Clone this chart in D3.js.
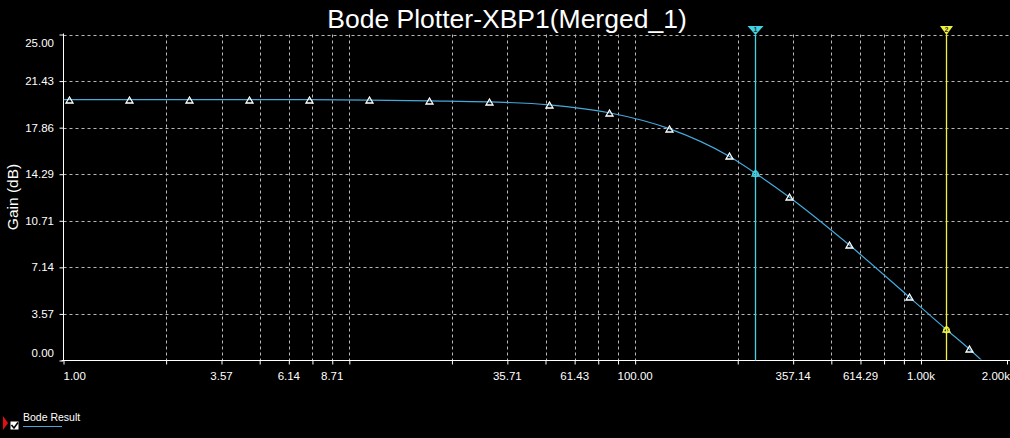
<!DOCTYPE html>
<html>
<head>
<meta charset="utf-8">
<script src="https://cdn.jsdelivr.net/npm/d3@7"></script>
<style>
  html, body { margin: 0; padding: 0; background: #000; }
  svg { display: block; }
  text { font-family: "Liberation Sans", Arial, sans-serif; fill: #fff; }
</style>
</head>
<body>
<svg id="chart" width="1010" height="438"></svg>
<script>
// ---- data ----
const title = "Bode Plotter-XBP1(Merged_1)";
const yLabel = "Gain (dB)";
const seriesName = "Bode Result";

// frequency (Hz) and gain (dB) of the trace
const freqs = [1, 1.049, 1.701, 2.757, 4.470, 7.247, 11.75, 19.04, 30.87, 50.05, 81.13, 131.5, 213.2, 262.8, 345.6, 560.2, 907.9, 1223, 1472, 2000];
const gains = [20.01, 20.01, 20.01, 20.01, 20.01, 20.00, 19.97, 19.91, 19.83, 19.61, 19.00, 17.78, 15.66, 14.38, 12.54, 8.87, 4.88, 2.40, 0.90, -1.85];

// frequencies carrying the white triangle markers
const markerFreqs = [1.049, 1.701, 2.757, 4.470, 7.247, 11.75, 19.04, 30.87, 50.05, 81.13, 131.5, 213.2, 345.6, 560.2, 907.9, 1472];

// cursors
const cursorLabels = ["1", "2"];
const cursorFreqs = [262.8, 1223];
const cursorColors = ["#3fd3e3", "#f2f23a"];

// axes
const xDomain = [1, 2000];
const yDomain = [0, 25];
const xTickValues = [1, 2.2857, 3.5714, 4.8571, 6.1429, 7.4286, 8.7143, 10,
  22.857, 35.714, 48.571, 61.429, 74.286, 87.143, 100,
  228.57, 357.14, 485.71, 614.29, 742.86, 871.43, 1000, 2000];
const xTickLabels = ["1.00", "", "3.57", "", "6.14", "", "8.71", "",
  "", "35.71", "", "61.43", "", "", "100.00",
  "", "357.14", "", "614.29", "", "", "1.00k", "2.00k"];
const yTickValues = [0, 3.5714, 7.1429, 10.714, 14.286, 17.857, 21.429, 25];
const yTickLabels = ["0.00", "3.57", "7.14", "10.71", "14.29", "17.86", "21.43", "25.00"];

// ---- drawing ----
const pLeft = 63.5, pRight = 1007, pTop = 34.5, pBottom = 360.5, axisEnd = 1010;
const svg = d3.select("#chart");

const x = d3.scaleLog().domain(xDomain).range([pLeft, pRight]);
const y = d3.scaleLinear().domain(yDomain).range([pBottom, pTop]);

const gridColor = "#b8b8b8";

// title
svg.append("text").attr("x", 507).attr("y", 28)
  .attr("text-anchor", "middle").style("font-size", "26.5px").text(title);

// horizontal grid
const gG = svg.append("g");
yTickValues.filter(v => v > 0).forEach(v => {
  gG.append("line").attr("x1", pLeft).attr("x2", axisEnd)
    .attr("y1", Math.round(y(v)) + 0.5).attr("y2", Math.round(y(v)) + 0.5)
    .attr("stroke", gridColor).attr("stroke-dasharray", "3,3");
});
// vertical grid
xTickValues.filter(v => v > 1 && v < 2000).forEach(v => {
  const px = Math.round(x(v)) + 0.5;
  gG.append("line").attr("x1", px).attr("x2", px)
    .attr("y1", pTop).attr("y2", pBottom)
    .attr("stroke", gridColor).attr("stroke-dasharray", "3,3");
});

// y axis
const yAxis = d3.axisLeft(y).tickValues(yTickValues).tickSize(4).tickFormat(() => "");
const gya = svg.append("g").attr("transform", `translate(${pLeft},0)`).call(yAxis);
gya.select(".domain").remove();
gya.selectAll("line").attr("stroke", "#fff");
svg.append("line").attr("x1", pLeft).attr("x2", pLeft).attr("y1", pTop - 1).attr("y2", pBottom)
  .attr("stroke", "#fff");
yTickValues.forEach((v, i) => {
  let py = y(v);
  if (i === 0) py -= 8;
  if (i === yTickValues.length - 1) py += 8;
  svg.append("text").attr("x", 54).attr("y", py).attr("dy", "0.36em")
    .attr("text-anchor", "end").style("font-size", "11.5px").text(yTickLabels[i]);
});

// x axis
const xAxis = d3.axisBottom(x).tickValues(xTickValues).tickSize(4).tickFormat(() => "");
const gxa = svg.append("g").attr("transform", `translate(0,${pBottom})`).call(xAxis);
gxa.select(".domain").remove();
gxa.selectAll("line").attr("stroke", "#fff");
svg.append("line").attr("x1", pLeft - 2).attr("x2", axisEnd).attr("y1", pBottom).attr("y2", pBottom)
  .attr("stroke", "#fff");
xTickValues.forEach((v, i) => {
  const lab = xTickLabels[i];
  if (!lab) return;
  let anchor = "middle", px = x(v);
  if (i === 0) { anchor = "start"; px = pLeft; }
  if (i === xTickValues.length - 1) { anchor = "end"; px = axisEnd; }
  svg.append("text").attr("x", px).attr("y", 376).attr("dy", "0.36em")
    .attr("text-anchor", anchor).style("font-size", "11.5px").text(lab);
});

// y label
svg.append("text").attr("transform", "translate(18,197) rotate(-90)")
  .attr("text-anchor", "middle").style("font-size", "15.5px").text(yLabel);

// clip for trace
svg.append("clipPath").attr("id", "plotclip").append("rect")
  .attr("x", pLeft).attr("y", pTop - 2).attr("width", axisEnd - pLeft).attr("height", pBottom - pTop + 1);

const pts = freqs.map((f, i) => [f, gains[i]]);
const line = d3.line().x(d => x(d[0])).y(d => y(d[1])).curve(d3.curveMonotoneX);
const traceColor = "#45a9dc";
svg.append("path").attr("d", line(pts)).attr("fill", "none")
  .attr("stroke", traceColor).attr("stroke-width", 1.2).attr("clip-path", "url(#plotclip)");

function tri(g, cx, cy, color) {
  g.append("path")
    .attr("d", `M${cx},${cy - 3.5}L${cx + 3.5},${cy + 2.5}L${cx - 3.5},${cy + 2.5}Z`)
    .attr("fill", "none").attr("stroke", color).attr("stroke-width", 1.3);
}
const gm = svg.append("g");
markerFreqs.forEach(f => {
  const i = freqs.indexOf(f);
  tri(gm, Math.round(x(f)) + 0.5, Math.round(y(gains[i])) + 0.5, "#fff");
});

// cursors
cursorFreqs.forEach((f, k) => {
  const px = Math.round(x(f)) + 0.5;
  const c = cursorColors[k];
  svg.append("line").attr("x1", px).attr("x2", px).attr("y1", pTop).attr("y2", pBottom)
    .attr("stroke", c).attr("stroke-width", 1.3);
  const w = k === 0 ? 8 : 6.5;
  svg.append("path").attr("d", `M${px - w},26L${px + w},26L${px},35Z`).attr("fill", c);
  svg.append("text").attr("x", px).attr("y", 31.5).attr("text-anchor", "middle")
    .style("font-size", "7px").style("font-weight", "bold").style("fill", "#333").text(cursorLabels[k]);
  const i = freqs.indexOf(f);
  const py = Math.round(y(gains[i])) + 0.5;
  svg.append("circle").attr("cx", px).attr("cy", py + 0.5).attr("r", 3).attr("fill", "none").attr("stroke", c);
  tri(svg, px, py, c);
});

// legend
svg.append("path").attr("d", "M3,416L8,423L3,430Z").attr("fill", "#e01010");
svg.append("rect").attr("x", 10.5).attr("y", 421.5).attr("width", 8).attr("height", 8).attr("fill", "#fff");
svg.append("path").attr("d", "M11.5,425L14,428L18,422.5").attr("fill", "none").attr("stroke", "#000").attr("stroke-width", 1.6);
svg.append("text").attr("x", 23).attr("y", 421).style("font-size", "10.5px").text(seriesName);
svg.append("line").attr("x1", 23).attr("x2", 62).attr("y1", 426.5).attr("y2", 426.5)
  .attr("stroke", traceColor).attr("stroke-width", 1);
</script>
</body>
</html>
